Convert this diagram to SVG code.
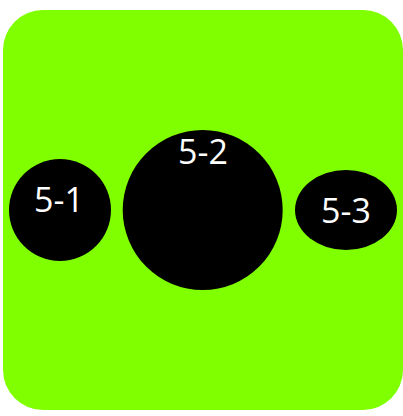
<svg xmlns="http://www.w3.org/2000/svg" width="403" height="416" viewBox="0 0 403 416">
<style>
.node{fill:#000}
.lbl{fill:#fff;font-family:"Open Sans","Noto Sans",sans-serif;font-size:34px;text-anchor:middle}
</style>
<rect x="3" y="10" width="400" height="400" rx="40" ry="40" fill="#80ff00"/>
<g id="connectors"></g>
<g id="node-5-1">
<circle class="node" cx="60" cy="210" r="51"/>
<text class="lbl" x="59" y="211.5">5-1</text>
</g>
<g id="node-5-2">
<circle class="node" cx="202.7" cy="210" r="80"/>
<text class="lbl" x="203" y="164">5-2</text>
</g>
<g id="node-5-3">
<ellipse class="node" cx="346" cy="210" rx="51" ry="40"/>
<text class="lbl" x="346" y="223">5-3</text>
</g>
</svg>
